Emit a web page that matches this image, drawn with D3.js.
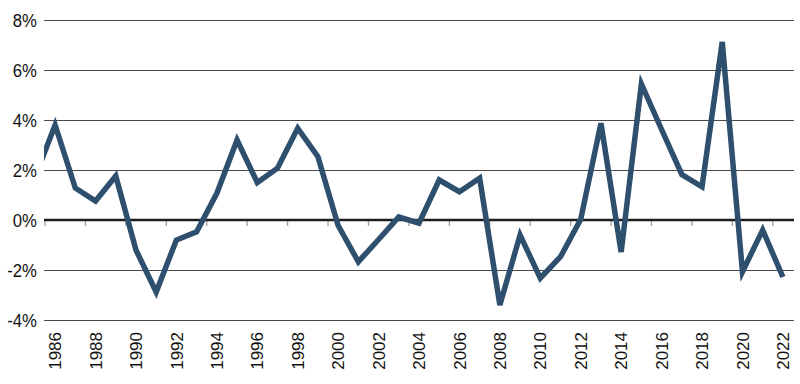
<!DOCTYPE html>
<html>
<head>
<meta charset="utf-8">
<script src="https://cdn.jsdelivr.net/npm/d3@7"></script>
<style>
  body { margin: 0; background: #fff; }
  text { font-family: "Liberation Sans", Arial, sans-serif; fill: #111; }
</style>
</head>
<body>
<div id="vis"></div>
<script>
const FRAME_HEIGHT = 384;
const FRAME_WIDTH = 800;
const MARGINS = {left: 44, right: 6, top: 20, bottom: 64};

const VIS_HEIGHT = FRAME_HEIGHT - MARGINS.top - MARGINS.bottom;
const VIS_WIDTH = FRAME_WIDTH - MARGINS.left - MARGINS.right;

// yearly values, % (1985 sits just off the left edge and gets clipped)
const YEARS = [1985, 1986, 1987, 1988, 1989, 1990, 1991, 1992, 1993, 1994,
               1995, 1996, 1997, 1998, 1999, 2000, 2001, 2002, 2003, 2004,
               2005, 2006, 2007, 2008, 2009, 2010, 2011, 2012, 2013, 2014,
               2015, 2016, 2017, 2018, 2019, 2020, 2021, 2022];
const VALUES = [1.7, 3.8, 1.28, 0.76, 1.76, -1.2, -2.88, -0.8, -0.47, 1.07,
                3.2, 1.5, 2.07, 3.67, 2.53, -0.22, -1.67, -0.78, 0.12, -0.13,
                1.6, 1.13, 1.67, -3.4, -0.6, -2.33, -1.47, 0.03, 3.87, -1.28,
                5.44, 3.62, 1.82, 1.33, 7.12, -2.07, -0.4, -2.28];

const Y_TICKS = [-4, -2, 0, 2, 4, 6, 8];
const X_LABELS = [1986, 1988, 1990, 1992, 1994, 1996, 1998, 2000, 2002, 2004,
                  2006, 2008, 2010, 2012, 2014, 2016, 2018, 2020, 2022];

const FRAME = d3.select("#vis")
    .append("svg")
    .attr("height", FRAME_HEIGHT)
    .attr("width", FRAME_WIDTH);

// each year is a band, points sit in the middle of it
const X_SCALE = d3.scaleLinear()
    .domain([1985.5, 2022.5])
    .range([MARGINS.left + 1, MARGINS.left + VIS_WIDTH - 1]);

const Y_SCALE = d3.scaleLinear()
    .domain([-4, 8])
    .range([MARGINS.top + VIS_HEIGHT, MARGINS.top]);

// gridlines + y labels
const Y_AXIS = FRAME.append("g")
    .attr("transform", "translate(" + MARGINS.left + ",0)")
    .call(d3.axisLeft(Y_SCALE)
        .tickValues(Y_TICKS)
        .tickSize(-VIS_WIDTH)
        .tickPadding(8)
        .tickFormat(d => d + "%"));

Y_AXIS.select(".domain").remove();
Y_AXIS.selectAll("line")
    .attr("stroke", d => d === 0 ? "none" : "#4a4a4a")
    .attr("stroke-width", 1.2);
Y_AXIS.selectAll("text")
    .attr("font-size", 19)
    .attr("transform", "scale(0.88,1)")
    .attr("dy", "0.36em");

// small ticks under the zero line, every two years
const TICK_POS = X_LABELS.map(d => d - 0.5);
FRAME.append("g")
    .selectAll("line")
    .data(TICK_POS)
    .enter()
    .append("line")
    .attr("x1", d => X_SCALE(d))
    .attr("x2", d => X_SCALE(d))
    .attr("y1", Y_SCALE(0))
    .attr("y2", Y_SCALE(0) + 6)
    .attr("stroke", "#a0a0a0")
    .attr("stroke-width", 1.3);

// zero line
FRAME.append("line")
    .attr("x1", MARGINS.left)
    .attr("x2", MARGINS.left + VIS_WIDTH)
    .attr("y1", Y_SCALE(0))
    .attr("y2", Y_SCALE(0))
    .attr("stroke", "#1e1e1e")
    .attr("stroke-width", 2.6);

// x labels, rotated
FRAME.append("g")
    .selectAll("text")
    .data(X_LABELS)
    .enter()
    .append("text")
    .attr("transform", d => "translate(" + X_SCALE(d) + "," + (MARGINS.top + VIS_HEIGHT + 12) + ") rotate(-90)")
    .attr("text-anchor", "end")
    .attr("dy", "0.36em")
    .attr("font-size", 17)
    .text(d => d);

// the series
FRAME.append("clipPath")
    .attr("id", "plot-clip")
    .append("rect")
    .attr("x", MARGINS.left)
    .attr("y", 0)
    .attr("width", VIS_WIDTH)
    .attr("height", FRAME_HEIGHT);

const LINE = d3.line()
    .x((d, i) => X_SCALE(YEARS[i]))
    .y(d => Y_SCALE(d));

FRAME.append("path")
    .datum(VALUES)
    .attr("clip-path", "url(#plot-clip)")
    .attr("fill", "none")
    .attr("stroke", "#2e506e")
    .attr("stroke-width", 5.5)
    .attr("stroke-linejoin", "miter")
    .attr("d", LINE);
</script>
</body>
</html>
